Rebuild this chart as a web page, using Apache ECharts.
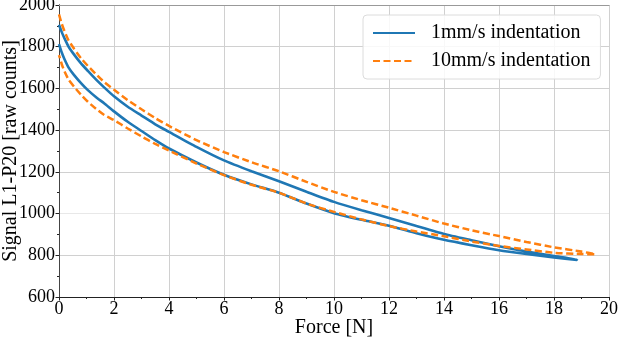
<!DOCTYPE html>
<html>
<head>
<meta charset="utf-8">
<script src="https://cdn.jsdelivr.net/npm/echarts@6/dist/echarts.min.js"></script>
<style>
html,body{margin:0;padding:0;background:#fff;}
#chart{width:618px;height:338px;}
</style>
</head>
<body>
<div id="chart"></div>
<script>
// ---- data ----
const seriesNames = ['1mm/s indentation', '10mm/s indentation'];

// 1mm/s : upper branch (F increasing) and lower branch
const force1Up = [0,0.1,0.2,0.35,0.55,0.8,1.05,1.35,1.65,2,2.5,3,3.5,4,5,6,7,8,9,10,11,12,13,14,15,16,17,18,18.84];
const signal1Up = [1905,1870,1840,1800,1762,1720,1684,1642,1604,1562,1512,1470,1428,1392,1320,1255,1203,1155,1105,1056,1016,979,940,902,872,843,818,796,778];
const force1Dn = [0,0.1,0.2,0.35,0.55,0.8,1.05,1.35,1.65,2,2.5,3,3.5,4,5,6,7,8,9,10,11,12,13,14,15,16,17,18,18.84];
const signal1Dn = [1812,1772,1740,1700,1664,1626,1592,1558,1528,1490,1440,1396,1352,1312,1245,1186,1140,1100,1048,1002,970,942,906,874,848,824,806,790,776];

// 10mm/s : upper branch and lower branch
const force2Up = [0,0.1,0.2,0.35,0.55,0.8,1.05,1.35,1.65,2,2.5,3,3.5,4,5,6,7,8,9,10,11,12,13,14,15,16,17,18,19,19.5];
const signal2Up = [1955,1910,1874,1830,1790,1745,1708,1668,1630,1594,1544,1500,1458,1420,1352,1295,1246,1203,1152,1104,1064,1028,990,952,920,892,864,838,818,805];
const force2Dn = [0,0.1,0.2,0.35,0.55,0.8,1.05,1.35,1.65,2,2.5,3,3.5,4,5,6,7,8,9,10,11,12,13,14,15,16,17,18,19,19.5];
const signal2Dn = [1760,1716,1682,1642,1608,1570,1536,1502,1472,1448,1408,1370,1334,1302,1240,1184,1138,1100,1048,1008,972,940,914,891,866,845,828,812,806,805];

const xTicks = {min:0, max:20, interval:2};
const yTicks = {min:600, max:2000, interval:200};

function loop(fu, su, fd, sd){
  const pts = [];
  for (let i=0;i<fu.length;i++) pts.push([fu[i], su[i]]);
  for (let i=fd.length-1;i>=0;i--) pts.push([fd[i], sd[i]]);
  return pts;
}

const FONT = 'Liberation Serif';
const chart = echarts.init(document.getElementById('chart'), null, {renderer:'canvas'});
const gridLineColors = ['#d0d0d0','#d0d0d0','#e8e8e8','#d0d0d0','#d0d0d0','#d0d0d0','#d0d0d0','#d0d0d0'];

chart.setOption({
  animation:false,
  backgroundColor:'#fff',
  textStyle:{fontFamily:FONT},
  grid:{left:59, right:9, top:5, bottom:41, outerBoundsMode:'none'},
  legend:{
    orient:'vertical', left:363, top:15, align:'left',
    padding:[8,10,8,9], itemGap:8, itemWidth:42, itemHeight:14,
    borderColor:'#dcdcdc', borderWidth:1, borderRadius:4,
    backgroundColor:'rgba(255,255,255,0.85)',
    itemStyle:{opacity:0},
    textStyle:{fontFamily:FONT, fontSize:20, color:'#000', padding:[0,0,0,11]},
    data:seriesNames
  },
  xAxis:[{
    type:'value', min:xTicks.min, max:xTicks.max, interval:xTicks.interval, position:'bottom',
    name:'Force [N]', nameLocation:'middle', nameGap:21, nameMoveOverlap:false,
    nameTextStyle:{fontFamily:FONT, fontSize:20, color:'#000'},
    axisLine:{show:true, onZero:false, lineStyle:{color:'#222', width:1}},
    axisTick:{show:true, length:3.5, lineStyle:{color:'#222'}},
    minorTick:{show:true, splitNumber:2, length:2, lineStyle:{color:'#222'}},
    axisLabel:{fontFamily:FONT, fontSize:18, color:'#000', margin:3, formatter:function(v){return String(v);}},
    splitLine:{show:true, lineStyle:{color:'#d0d0d0', width:1}}
  },{
    type:'value', min:xTicks.min, max:xTicks.max, position:'top',
    axisLine:{show:true, lineStyle:{color:'#999', width:1}},
    axisTick:{show:false}, axisLabel:{show:false}, splitLine:{show:false}
  }],
  yAxis:[{
    type:'value', min:yTicks.min, max:yTicks.max, interval:yTicks.interval, position:'left',
    name:'Signal L1-P20 [raw counts]', nameLocation:'middle', nameGap:38, nameMoveOverlap:false,
    nameTextStyle:{fontFamily:FONT, fontSize:20, color:'#000'},
    axisLine:{show:true, onZero:false, lineStyle:{color:'#222', width:1}},
    axisTick:{show:true, length:3.5, lineStyle:{color:'#222'}},
    minorTick:{show:true, splitNumber:2, length:2, lineStyle:{color:'#222'}},
    axisLabel:{fontFamily:FONT, fontSize:18, color:'#000', margin:4, formatter:function(v){return String(v);}},
    splitLine:{show:true, lineStyle:{color:gridLineColors, width:1}}
  },{
    type:'value', min:yTicks.min, max:yTicks.max, position:'right',
    axisLine:{show:true, lineStyle:{color:'#444', width:1}},
    axisTick:{show:false}, axisLabel:{show:false}, splitLine:{show:false}
  }],
  series:[{
    name:seriesNames[0], type:'line', xAxisIndex:0, yAxisIndex:0,
    showSymbol:false, symbol:'none', smooth:0.2,
    lineStyle:{color:'#1f77b4', width:2.6, type:'solid'},
    itemStyle:{color:'#1f77b4'},
    data:loop(force1Up, signal1Up, force1Dn, signal1Dn)
  },{
    name:seriesNames[1], type:'line', xAxisIndex:0, yAxisIndex:0,
    showSymbol:false, symbol:'none', smooth:0.2,
    lineStyle:{color:'#ff7f0e', width:2.5, type:[7,3.5]},
    itemStyle:{color:'#ff7f0e'},
    data:loop(force2Up, signal2Up, force2Dn, signal2Dn)
  }]
});
</script>
</body>
</html>
